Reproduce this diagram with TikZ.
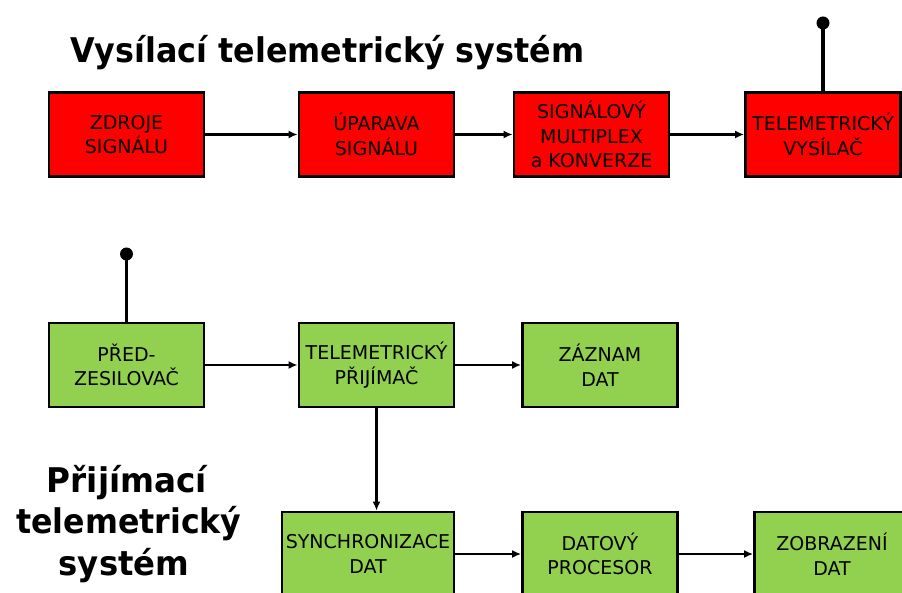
\documentclass[tikz,border=0pt]{standalone}
\usepackage{fontspec}
\setmainfont{DejaVu Sans}
\newfontfamily\boxfont{DejaVu Sans}
\newfontfamily\headfont{DejaVu Sans}
\usetikzlibrary{arrows.meta}
\definecolor{boxred}{RGB}{255,0,0}
\definecolor{boxgreen}{RGB}{146,208,80}
\tikzset{
  blk/.style={draw=black, line width=2.8pt, minimum width=155pt, minimum height=84pt,
    inner sep=0pt, align=center, font=\boxfont\fontsize{19}{24.5}\selectfont},
  redblk/.style={blk, fill=boxred},
  greenblk/.style={blk, fill=boxgreen},
  conn/.style={line width=2.2pt, -{Latex[length=9pt,width=8pt]}},
  antenna/.style={line width=3.8pt},
  headtxt/.style={font=\headfont\bfseries\fontsize{34}{42}\selectfont, inner sep=0pt}
}
\begin{document}
\begin{tikzpicture}[x=1pt,y=-1pt]
\useasboundingbox[fill=white] (0,0) rectangle (902,593);
% titles
\node[headtxt, anchor=base west] (t1) at (70,63) {\scalebox{0.935}[1]{Vysílací telemetrický systém}};
\node[headtxt, anchor=base] (t2a) at (127,492) {\scalebox{0.96}[1]{Přijímací}};
\node[headtxt, anchor=base] (t2b) at (129,533) {\scalebox{0.93}[1]{telemetrický}};
\node[headtxt, anchor=base] (t2c) at (124,575) {\scalebox{0.95}[1]{systém}};
% top row
\node[redblk] (zdr) at (126.5,134.5) {ZDROJE\\SIGNÁLU};
\node[redblk] (upr) at (376.5,134.5) {ÚPARAVA\\SIGNÁLU};
\node[redblk] (mux) at (591.5,134.5) {SIGNÁLOVÝ\\MULTIPLEX\\a KONVERZE};
\node[redblk] (vys) at (823,134.5) {TELEMETRICKÝ\\VYSÍLAČ};
\draw[conn] (zdr) -- (upr);
\draw[conn] (upr) -- (mux);
\draw[conn] (mux) -- (vys);
\coordinate (ant1) at (823,23);
\draw[antenna] (vys.north) -- (ant1);
\fill (ant1) circle (6.5pt);
% second row
\node[greenblk] (pred) at (126.5,365) {PŘED-\\ZESILOVAČ};
\node[greenblk] (prij) at (376.5,365) {TELEMETRICKÝ\\PŘIJÍMAČ};
\node[greenblk] (zaz) at (600,365) {ZÁZNAM\\DAT};
\draw[conn] (pred) -- (prij);
\draw[conn] (prij) -- (zaz);
\coordinate (ant2) at (126.5,254);
\draw[antenna] (pred.north) -- (ant2);
\fill (ant2) circle (6.5pt);
% third row
\node[greenblk, minimum width=172pt] (sync) at (368,554) {SYNCHRONIZACE\\DAT};
\node[greenblk] (dat) at (600,554) {DATOVÝ\\PROCESOR};
\node[greenblk] (zob) at (832,554) {ZOBRAZENÍ\\DAT};
\draw[conn] (prij.south) -- (prij.south |- sync.north);
\draw[conn] (sync) -- (dat);
\draw[conn] (dat) -- (zob);
\end{tikzpicture}
\end{document}
